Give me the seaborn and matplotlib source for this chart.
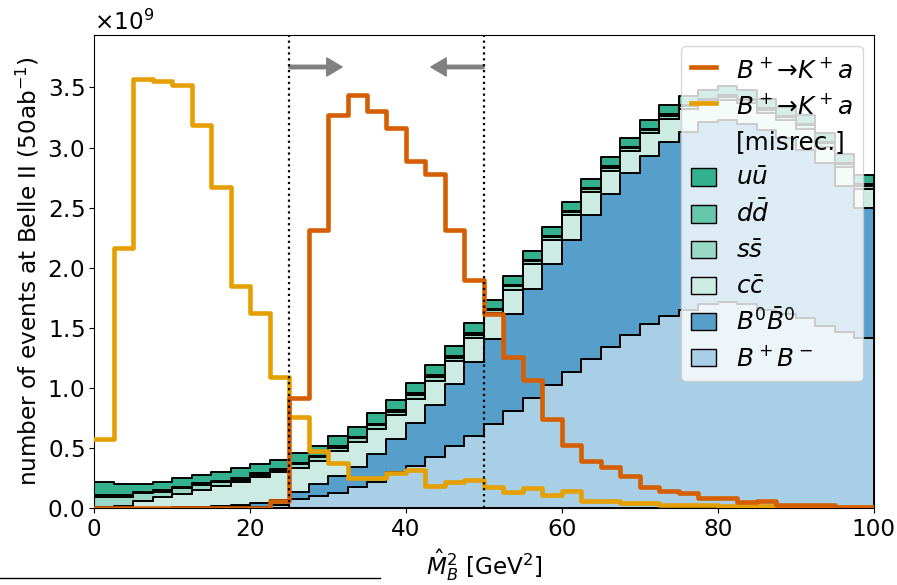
import numpy as np
import pandas as pd
import seaborn as sns
import matplotlib.pyplot as plt
from matplotlib.lines import Line2D
from matplotlib.patches import Patch, Rectangle
from matplotlib.legend_handler import HandlerPatch

plt.rcParams["font.size"] = 16.7

# 40 bins of 2.5 GeV^2 between 0 and 100, counts in units of 1e9 events
edges = np.linspace(0, 100, 41)
centers = 0.5 * (edges[:-1] + edges[1:])

signal = [0, 0, 0, 0, 0, 0, 0, 0, 0, 0.06,
          0.92, 2.315, 3.27, 3.44, 3.30, 3.16, 2.89, 2.78, 2.315, 1.90,
          1.62, 1.26, 1.07, 0.74, 0.53, 0.395, 0.34, 0.27, 0.18, 0.145,
          0.13, 0.09, 0.09, 0.055, 0.06, 0.03, 0.03, 0.03, 0.01, 0.01]
misrec = [0.58, 2.165, 3.57, 3.55, 3.52, 3.19, 2.67, 1.85, 1.625, 1.09,
          0.76, 0.48, 0.38, 0.25, 0.25, 0.29, 0.32, 0.19, 0.22, 0.24,
          0.18, 0.14, 0.17, 0.11, 0.145, 0.062, 0.062, 0.046, 0.046, 0.03,
          0.025, 0.025, 0.02, 0.02, 0.018, 0.015, 0.012, 0.01, 0.01, 0.008]

bpbm = [0.000, 0.001, 0.002, 0.003, 0.004, 0.005, 0.006, 0.008, 0.012, 0.030,
        0.080, 0.100, 0.130, 0.180, 0.220, 0.300, 0.350, 0.430, 0.515, 0.603,
        0.700, 0.810, 0.920, 1.027, 1.137, 1.240, 1.345, 1.440, 1.530, 1.600,
        1.650, 1.700, 1.720, 1.700, 1.650, 1.620, 1.580, 1.520, 1.470, 1.415]
b0b0 = [0.002, 0.003, 0.003, 0.004, 0.005, 0.007, 0.010, 0.017, 0.033, 0.040,
        0.060, 0.100, 0.140, 0.160, 0.230, 0.280, 0.360, 0.430, 0.515, 0.617,
        0.710, 0.805, 0.900, 1.003, 1.093, 1.200, 1.265, 1.350, 1.400, 1.450,
        1.480, 1.515, 1.510, 1.500, 1.500, 1.460, 1.400, 1.350, 1.210, 1.080]
ccbar = [0.008, 0.019, 0.057, 0.086, 0.111, 0.143, 0.174, 0.198, 0.215, 0.230,
         0.195, 0.193, 0.203, 0.213, 0.213, 0.193, 0.203, 0.203, 0.193, 0.193,
         0.211, 0.203, 0.208, 0.198, 0.208, 0.188, 0.198, 0.178, 0.188, 0.188,
         0.188, 0.153, 0.168, 0.168, 0.138, 0.148, 0.178, 0.138, 0.158, 0.163]
ssbar = [0.085, 0.075, 0.063, 0.047, 0.046, 0.041, 0.027, 0.015, 0.018, 0.018,
         0.030, 0.030, 0.031, 0.030, 0.029, 0.030, 0.031, 0.030, 0.030, 0.029,
         0.026, 0.027, 0.026, 0.026, 0.025, 0.026, 0.026, 0.027, 0.026, 0.026,
         0.026, 0.025, 0.026, 0.026, 0.026, 0.025, 0.026, 0.026, 0.025, 0.026]
ddbar = [0.015, 0.015, 0.015, 0.014, 0.014, 0.014, 0.013, 0.012, 0.012, 0.012,
         0.012, 0.012, 0.012, 0.012, 0.012, 0.012, 0.012, 0.012, 0.012, 0.012,
         0.011, 0.011, 0.011, 0.011, 0.011, 0.011, 0.011, 0.011, 0.011, 0.011,
         0.011, 0.011, 0.011, 0.011, 0.011, 0.011, 0.011, 0.011, 0.011, 0.011]
uubar = [0.110, 0.091, 0.064, 0.069, 0.070, 0.068, 0.076, 0.084, 0.080, 0.075,
         0.085, 0.085, 0.084, 0.085, 0.086, 0.085, 0.084, 0.085, 0.085, 0.086,
         0.075, 0.074, 0.075, 0.076, 0.075, 0.075, 0.074, 0.075, 0.075, 0.075,
         0.075, 0.076, 0.075, 0.075, 0.075, 0.076, 0.075, 0.075, 0.076, 0.075]

labels = {
    "uu": r"$u\bar{u}$",
    "dd": r"$d\bar{d}$",
    "ss": r"$s\bar{s}$",
    "cc": r"$c\bar{c}$",
    "B0": r"$B^0\bar{B}^0$",
    "Bp": r"$B^+B^-$",
}
colors = {"uu": "#33b18f", "dd": "#66c5ab", "ss": "#99d8c7", "cc": "#ccece3",
          "B0": "#569fca", "Bp": "#a8cfe5"}
order = ["uu", "dd", "ss", "cc", "B0", "Bp"]  # first one ends up on top of the stack

bkg = pd.DataFrame({"M2": centers, "uu": uubar, "dd": ddbar, "ss": ssbar,
                    "cc": ccbar, "B0": b0b0, "Bp": bpbm})
bkg = bkg.melt(id_vars="M2", var_name="process", value_name="events")
bkg["events"] = bkg["events"] * 1e9

hist_kw = dict(binwidth=2.5, binrange=(0, 100), element="step")

fig, ax = plt.subplots(figsize=(8.97, 5.85), dpi=100)
fig.subplots_adjust(left=0.105, right=0.974, top=0.941, bottom=0.131)

sns.histplot(data=bkg, x="M2", weights="events", hue="process", hue_order=order,
             multiple="stack", fill=True, palette=colors, alpha=1,
             edgecolor="k", linewidth=1.4, legend=False, ax=ax, **hist_kw)

c_sig = "#D55E00"
c_mis = "#E69F00"
sns.histplot(x=centers, weights=np.array(misrec) * 1e9, fill=False,
             color=c_mis, linewidth=3.3, ax=ax, zorder=3, **hist_kw)
sns.histplot(x=centers, weights=np.array(signal) * 1e9, fill=False,
             color=c_sig, linewidth=3.3, ax=ax, zorder=3, **hist_kw)

# signal window
ax.axvline(25, color="k", ls=":", lw=1.6, zorder=4)
ax.axvline(50, color="k", ls=":", lw=1.6, zorder=4)
arr = dict(facecolor="gray", edgecolor="gray", width=2.5, headwidth=13,
           headlength=11, shrink=0)
ax.annotate("", xy=(31.8, 3.67e9), xytext=(25, 3.67e9), arrowprops=arr)
ax.annotate("", xy=(43.2, 3.67e9), xytext=(50, 3.67e9), arrowprops=arr)

ax.set_xlim(0, 100)
ax.set_ylim(0, 3.94e9)
ax.ticklabel_format(style="sci", axis="y", scilimits=(0, 0), useMathText=True)
ax.set_xlabel(r"$\hat{M}_B^2$ [GeV$^2$]")
ax.set_ylabel(r"number of events at Belle II (50ab$^{-1}$)")


def small_box(legend, orig_handle, xdescent, ydescent, width, height, fontsize):
    h = 0.7 * fontsize
    yc = height / 2 - ydescent
    return Rectangle((-xdescent, yc - h / 2), width, h)


handles = [Line2D([], [], color=c_sig, lw=3.3),
           Line2D([], [], color=c_mis, lw=3.3),
           Line2D([], [], lw=0)]
handles += [Patch(facecolor=colors[k], edgecolor="k") for k in order]
names = [r"$B^+$→$K^+a$", r"$B^+$→$K^+a$", "[misrec.]"]
names += [labels[k] for k in order]
ax.legend(handles, names, loc="upper right", fontsize=17.8, handlelength=1.0,
          handleheight=1.35, labelspacing=0.33, borderaxespad=0.45,
          handler_map={Patch: HandlerPatch(patch_func=small_box)})

fig.add_artist(Line2D([0, 380 / 897], [1 - 578 / 585] * 2, color="k", lw=1))

fig.savefig("out.png", dpi=100)
